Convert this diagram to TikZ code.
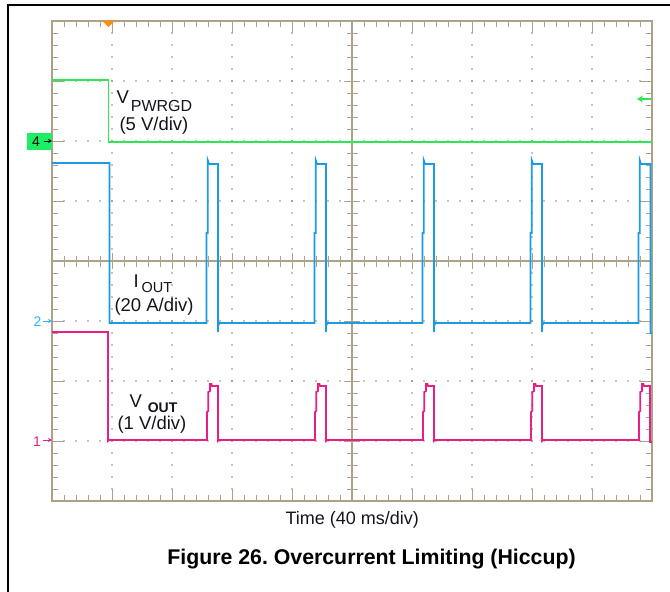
\documentclass[tikz,border=0pt]{standalone}
\usepackage{fontspec}
\setmainfont{Liberation Sans}
\usetikzlibrary{arrows.meta}
\frenchspacing
\definecolor{gridc}{RGB}{172,162,135}
\definecolor{dotc}{RGB}{140,135,120}
\definecolor{grn}{RGB}{45,232,85}
\definecolor{grnbox}{RGB}{30,238,100}
\definecolor{blu}{RGB}{25,155,230}
\definecolor{lblu}{RGB}{50,180,245}
\definecolor{mag}{RGB}{232,30,130}
\definecolor{org}{RGB}{255,140,20}
\definecolor{txt}{RGB}{20,20,30}
\begin{document}
\begin{tikzpicture}[x=1pt,y=-1pt,
  every node/.style={inner sep=0pt,outer sep=0pt},
  frameline/.style={draw=gridc,line width=1.2pt},
  tickline/.style={draw=gridc,line width=1pt},
  trace/.style={line width=1.7pt,line join=miter},
  lbl/.style={font=\fontsize{18.5}{20}\selectfont,text=txt,anchor=base west},
  chlbl/.style={font=\fontsize{14}{16}\selectfont,anchor=base},
  marker/.style={line width=0.9pt,-{Stealth[length=4pt,width=4pt]}}]
\useasboundingbox (0,0) rectangle (670,592);
% outer frame
\draw[black,line width=1.7pt] (8,592) -- (8,5) -- (670,5);
% dotted grid lines
\foreach \k in {1,2,3,4,6,7,8,9}
  \foreach \j in {1,...,39}
    \fill[dotc] ({52+60*\k},{21+12*\j}) circle (0.8);
\foreach \m in {1,2,3,5,6,7}
  \foreach \i in {1,...,49}
    \fill[dotc] ({52+12*\i},{21+60*\m}) circle (0.8);
% border and centre axes
\draw[frameline] (52,21) rectangle (652,501);
\draw[frameline] (52,261) -- (652,261);
\draw[frameline] (352,21) -- (352,501);
% ticks on x
\foreach \i in {1,...,49}{
  \pgfmathtruncatemacro\mm{mod(\i,5)}
  \ifnum\mm=0 \def\L{12}\def\C{8}\else\def\L{6}\def\C{5.5}\fi
  \draw[tickline] ({52+12*\i},21) -- ++(0,\L);
  \draw[tickline] ({52+12*\i},501) -- ++(0,-\L);
  \draw[tickline] ({52+12*\i},{261-\C}) -- ({52+12*\i},{261+\C});
}
% ticks on y
\foreach \j in {1,...,39}{
  \pgfmathtruncatemacro\mm{mod(\j,5)}
  \ifnum\mm=0 \def\L{12}\def\C{8}\else\def\L{6}\def\C{5.5}\fi
  \draw[tickline] (52,{21+12*\j}) -- ++(\L,0);
  \draw[tickline] (652,{21+12*\j}) -- ++(-\L,0);
  \draw[tickline] ({352-\C},{21+12*\j}) -- ({352+\C},{21+12*\j});
}
% trigger marker
\fill[org] (102,20.5) -- (115,20.5) -- (108.5,27) -- cycle;
% traces
\draw[grn,trace,line width=1.5pt] (52,80) -- (108.5,80) -- (108.5,142) -- (652,142);
\draw[mag,trace] (52,332) -- (108,332) -- (108,441) -- (109,440)
  \foreach \s in {206.5,314.5,422.5,530.5}{
    -- ({\s+0.5},440) -- ({\s+0.5},412) -- ({\s+1.7},411) -- ({\s+1.7},392)
    -- ({\s+3.5},391) -- ({\s+3.5},384) -- ({\s+5},384) -- ({\s+5.5},386)
    -- ({\s+11.5},386) -- ({\s+11.5},441) -- ({\s+12.5},440) }
  -- (639,440) -- (639,412) -- (640.2,411) -- (640.2,392) -- (642,391)
  -- (642,384) -- (643.5,384) -- (644,386) -- (650,386) -- (650,442) -- (652,442);
\draw[blu,trace] (52,163) -- (109.5,163) -- (109.5,323)
  \foreach \s in {206.5,314.5,422.5,530.5}{
    -- (\s,323) -- (\s,233) -- ({\s+1.2},233) -- ({\s+1.2},160)
    -- ({\s+2.6},164) -- ({\s+11.5},164) -- ({\s+11.5},332)
    -- ({\s+11.5},326) -- ({\s+13},323) }
  -- (638.5,323) -- (638.5,233) -- (639.7,233) -- (639.7,160)
  -- (641,164) -- (650.5,164) -- (650.5,333) -- (652,333);
% channel markers
\node (m4box) [fill=grnbox,minimum width=25pt,minimum height=17pt] at (39.5,141.5) {};
\node (m4) [chlbl,text=black] at (36,146.5) {4};
\coordinate (m4a) at (44,141);
\coordinate (m4b) at (52,141);
\draw[marker,black] (m4a) -- (m4b);
\node (m2) [chlbl,text=lblu] at (37.5,326) {2};
\coordinate (m2a) at (43,321);
\coordinate (m2b) at (52,321);
\draw[marker,lblu] (m2a) -- (m2b);
\node (m1) [chlbl,text=mag] at (37,446) {1};
\coordinate (m1a) at (43,440);
\coordinate (m1b) at (52,440);
\draw[marker,mag] (m1a) -- (m1b);
% trigger level marker on right
\coordinate (tla) at (651,99);
\coordinate (tlb) at (637,99);
\draw[grn,line width=1.5pt,-{Stealth[length=6pt,width=7pt]}] (tla) -- (tlb);
% labels
\node (vpg) [lbl] at (116.5,103) {V\hspace{2pt}\raisebox{-8pt}{\fontsize{16}{18}\selectfont PWRGD}};
\node (vpgs) [lbl] at (119.5,130) {(5 V/div)};
\node (iout) [lbl] at (133.5,287) {I\hspace{3pt}\raisebox{-5pt}{\fontsize{14.5}{16}\selectfont OUT}};
\node (iouts) [lbl] at (114.5,311) {(20 A/div)};
\node (vout) [lbl] at (129.5,407) {V\hspace{6pt}\raisebox{-5pt}{\fontsize{14}{16}\selectfont\bfseries OUT}};
\node (vouts) [lbl] at (117.5,429) {(1 V/div)};
\node (time) [lbl,font=\fontsize{18}{20}\selectfont] at (285.5,524) {Time (40 ms/div)};
\node (cap) [anchor=base,font=\fontsize{21.3}{24}\selectfont\bfseries,text=black] at (371.5,564) {Figure 26. Overcurrent Limiting (Hiccup)};
\end{tikzpicture}
\end{document}
